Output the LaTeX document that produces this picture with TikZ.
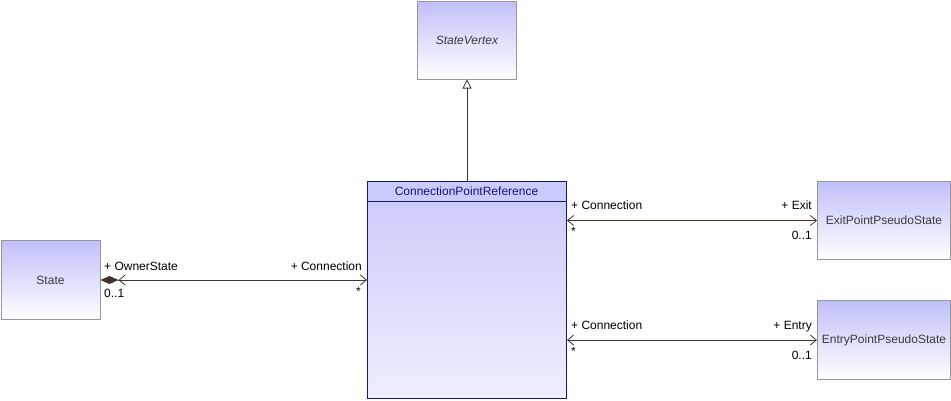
\documentclass[tikz,border=0pt]{standalone}
\usepackage{fontspec}
\setmainfont{Liberation Sans}
\usetikzlibrary{arrows.meta}
\definecolor{boxgray}{RGB}{150,150,150}
\definecolor{lav}{RGB}{192,192,250}
\definecolor{lavlight}{RGB}{214,214,252}
\definecolor{navy}{RGB}{20,20,128}
\definecolor{linec}{RGB}{64,54,40}
\definecolor{txt}{RGB}{60,60,60}
\tikzset{
  classbox/.style={draw=boxgray, line width=1pt, top color=lav, bottom color=white,
    inner sep=0pt, anchor=north west, text=txt, font=\fontsize{12}{14}\selectfont},
  lbl/.style={inner sep=0pt, text=black, font=\fontsize{12}{14}\selectfont},
  conn/.style={draw=linec, line width=0.8pt},
}
\begin{document}
\begin{tikzpicture}[x=1pt,y=-1pt]
\useasboundingbox (0,0) rectangle (951,400);
\node[classbox, minimum width=99pt, minimum height=78pt, font=\fontsize{12}{14}\selectfont\itshape] (sv) at (417,0.5) {StateVertex};
\node[classbox, minimum width=99pt, minimum height=79pt] (st) at (0.5,240) {State};
\node[classbox, minimum width=133pt, minimum height=78pt] (ex) at (817,181) {ExitPointPseudoState};
\node[classbox, minimum width=133pt, minimum height=79pt] (en) at (817,300) {EntryPointPseudoState};
\node[draw=navy, line width=1pt, top color=lav!85, bottom color=lavlight!40, inner sep=0pt, anchor=north west,
  minimum width=199pt, minimum height=217pt] (cpr) at (367,181) {};
\coordinate (hl) at (367,201);
\coordinate (hr) at (566,201);
\draw[navy, line width=1pt] (hl) -- (hr);
\node[lbl, text=navy] (cprname) at (466.5,191) {ConnectionPointReference};
% generalization
\draw[conn, -{Triangle[open,length=9pt,width=9pt,line width=0.8pt]}] (cpr.north) -- (sv.south);
% State association
\draw[conn, {Diamond[length=18pt,width=8pt,fill=linec] Straight Barb[length=6pt,width=10pt,line width=0.8pt]}-{Straight Barb[length=6pt,width=10pt,line width=0.8pt]}] (st.east) -- (cpr.west |- st.east);
\node[lbl, anchor=base west] (l1) at (104,270) {+ OwnerState};
\node[lbl, anchor=base west] (l2) at (104,297) {0..1};
\node[lbl, anchor=base east] (l3) at (362,270) {+ Connection};
\node[lbl, anchor=base east] (l4) at (361,295) {*};
% Exit association
\draw[conn, {Straight Barb[length=6pt,width=10pt,line width=0.8pt]}-{Straight Barb[length=6pt,width=10pt,line width=0.8pt]}] (cpr.east |- ex.west) -- (ex.west);
\node[lbl, anchor=base west] (l5) at (571,209) {+ Connection};
\node[lbl, anchor=base west] (l6) at (571,235) {*};
\node[lbl, anchor=base east] (l7) at (812,209) {+ Exit};
\node[lbl, anchor=base east] (l8) at (812,239) {0..1};
% Entry association
\draw[conn, {Straight Barb[length=6pt,width=10pt,line width=0.8pt]}-{Straight Barb[length=6pt,width=10pt,line width=0.8pt]}] (cpr.east |- en.west) -- (en.west);
\node[lbl, anchor=base west] (l9) at (571,329) {+ Connection};
\node[lbl, anchor=base west] (l10) at (571,355) {*};
\node[lbl, anchor=base east] (l11) at (812,329) {+ Entry};
\node[lbl, anchor=base east] (l12) at (812,359) {0..1};
\end{tikzpicture}
\end{document}
